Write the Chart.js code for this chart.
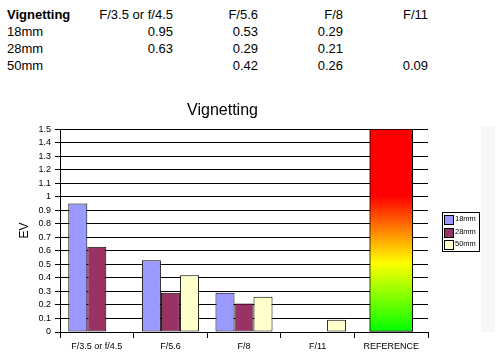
<!DOCTYPE html>
<html>
<head>
<meta charset="utf-8">
<script src="https://cdn.jsdelivr.net/npm/chart.js@4"></script>
<style>
body { margin: 0; background: #fff; font-family: "Liberation Sans", Arial, sans-serif; }
#wrap { position: relative; width: 501px; height: 360px; overflow: hidden; }
#table { position: absolute; left: 7px; top: 6px; border-collapse: collapse; font-size: 13px; color: #000; }
#table td { padding: 0; height: 17px; line-height: 17px; white-space: nowrap; text-align: right; width: 85px; }
#table td:first-child { text-align: left; width: 81px; }
#table tr:first-child td:first-child { font-weight: bold; }
#chart { position: absolute; left: 0; top: 95px; }
#panel { position: absolute; left: 481px; top: 126px; width: 14px; height: 206px; background: #f7f7f7; }
#legend { position: absolute; left: 442px; top: 212px; width: 36px; height: 38px; border: 1px solid #000; font-size: 7.5px; }
#legend div { position: relative; height: 12.5px; line-height: 12.5px; padding-left: 12px; white-space: nowrap; }
#legend span { position: absolute; left: 1px; top: 2px; width: 8px; height: 8px; border: 1px solid #000; }
</style>
</head>
<body>
<div id="wrap">
<table id="table"></table>
<div id="panel"></div>
<canvas id="chart" width="501" height="265"></canvas>
<div id="legend"></div>
</div>
<script>
const categories = ["F/3.5 or f/4.5", "F/5.6", "F/8", "F/11", "REFERENCE"];
const seriesNames = ["18mm", "28mm", "50mm"];
const mm18 = [0.95, 0.53, 0.29, null, null];
const mm28 = [0.63, 0.29, 0.21, null, null];
const mm50 = [null, 0.42, 0.26, 0.09, null];
const reference = [null, null, null, null, 1.5];
const colors = ["#9999ff", "#993366", "#ffffcc"];

// table above the chart
const tbl = document.getElementById("table");
let rows = "<tr><td>Vignetting</td>" + categories.slice(0, 4).map(c => "<td>" + c + "</td>").join("") + "</tr>";
[mm18, mm28, mm50].forEach((vals, i) => {
rows += "<tr><td>" + seriesNames[i] + "</td>" + vals.slice(0, 4).map(v => "<td>" + (v == null ? "" : v.toFixed(2)) + "</td>").join("") + "</tr>";
});
tbl.innerHTML = rows;

Chart.defaults.font.family = '"Liberation Sans", Arial, sans-serif';
Chart.defaults.color = "#000";

function refGradient(ctx) {
const chart = ctx.chart;
if (!chart.chartArea) return "#ff0000";
const y = chart.scales.y;
const g = chart.ctx.createLinearGradient(0, y.getPixelForValue(0), 0, y.getPixelForValue(1.5));
g.addColorStop(0, "#00ff00");
g.addColorStop(0.34, "#ffff00");
g.addColorStop(0.67, "#ff0000");
g.addColorStop(1, "#ff0000");
return g;
}

const chart = new Chart(document.getElementById("chart").getContext("2d"), {
type: "bar",
data: {
labels: categories,
datasets: [
{ label: seriesNames[0], data: mm18, backgroundColor: colors[0] },
{ label: seriesNames[1], data: mm28, backgroundColor: colors[1] },
{ label: seriesNames[2], data: mm50, backgroundColor: colors[2] },
{ label: "Reference", data: reference, backgroundColor: refGradient, grouped: false, barThickness: 43 }
]
},
options: {
responsive: false,
animation: false,
layout: { padding: { left: 17, right: 73, top: 0, bottom: 0 } },
datasets: {
bar: { borderColor: "#000", borderWidth: 1, borderSkipped: false, categoryPercentage: 0.775, barPercentage: 1 }
},
plugins: {
legend: { display: false },
tooltip: { enabled: false },
title: { display: true, text: "Vignetting", font: { size: 16, weight: "normal" }, padding: { top: 6, bottom: 9 } }
},
scales: {
x: {
offset: true,
grid: { offset: true, drawOnChartArea: false, tickLength: 6, color: "#000" },
border: { color: "#000" },
ticks: { font: { size: 9 }, padding: 3, maxRotation: 0, autoSkip: false },
afterFit: s => { s.height = 28; }
},
y: {
min: 0, max: 1.5,
ticks: { stepSize: 0.1, autoSkip: false, font: { size: 9 }, padding: 4, callback: v => String(+v.toFixed(1)) },
grid: { color: "#000", tickLength: 5 },
border: { color: "#000" },
title: { display: true, text: "EV", font: { size: 12 }, padding: 0 },
afterFit: s => { s.width = 43; }
}
}
}
});

// legend box on the right
document.getElementById("legend").innerHTML = chart.data.datasets.slice(0, 3)
.map(d => '<div><span style="background:' + d.backgroundColor + '"></span>' + d.label + "</div>").join("");
</script>
</body>
</html>
